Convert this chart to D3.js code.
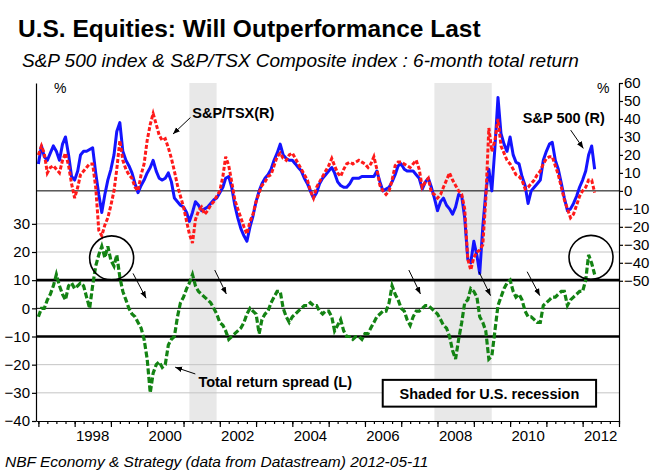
<!DOCTYPE html>
<html><head><meta charset="utf-8">
<script src="https://cdn.jsdelivr.net/npm/d3@7/dist/d3.min.js"></script>
<style>
body{margin:0;background:#fff}
svg{display:block}
text{font-family:"Liberation Sans",Arial,sans-serif;fill:#000}
</style>
</head><body>
<svg id="chart" width="667" height="475"></svg>
<script>
// ---------------- DATA (monthly, Jan 1997 .. May 2012) ----------------
const startMonth = [1997, 0]; // January 1997
const sp500 = [ // S&P 500 6-month total return (%), right axis
  15,25,19,17,21,25,22,17,26,30,20,8,
  6,11,20,22,22,23,24,10,-2,-12,-2,6,
  12,20,33,38,22,17,14,10,4,-1,3,6,
  10,13,17,11,7,6,7,10,5,-4,-6,-8,
  -9,-12,-17,-12,-6,-8,-11,-10,-9,-7,-5,-4,
  -1,2,7,8,2,-8,-15,-21,-25,-28,-20,-14,
  -6,0,4,7,9,12,17,21,26,20,18,17,
  17,15,13,11,7,4,0,-4,-1,4,7,9,
  11,13,10,5,3,2,2,4,7,7,7,8,
  8,8,8,8,11,5,0,1,2,5,9,14,
  15,12,11,11,11,9,7,1,5,7,2,-4,
  -11,-6,-4,-8,-10,-13,-9,-2,-3,-15,-38,-40,
  -28,-36,-46,-20,-1,12,0,24,52,32,26,22,
  30,20,16,15,8,3,-7,0,2,4,6,17,
  22,26,27,17,12,4,-4,-11,-10,-7,-3,2,
  6,11,20,25,12
];
const tsx = [ // S&P/TSX 6-month total return (%), right axis
  20,25,21,10,13,14,12,10,17,21,14,4,
  -4,2,9,11,13,15,15,2,-22,-25,-19,-15,
  -8,0,12,28,17,12,9,7,2,0,9,15,
  28,37,43,37,31,28,29,24,18,11,3,-3,
  -9,-17,-24,-29,-16,-11,-9,-13,-11,-8,-6,-3,
  0,8,19,14,5,-5,-10,-15,-20,-24,-17,-13,
  -6,-1,3,5,8,9,14,19,21,18,17,20,
  21,18,15,12,9,6,0,-4,2,5,8,11,
  14,18,14,10,8,12,15,16,15,16,17,16,
  15,13,15,19,12,3,0,-2,0,6,14,16,
  16,15,14,13,15,17,12,2,5,7,-1,-2,
  -4,-2,2,6,10,6,3,0,-2,-10,-38,-44,
  -37,-34,-33,-30,-5,35,22,28,40,25,21,17,
  15,12,9,8,6,1,2,4,6,9,11,15,
  18,19,19,14,9,2,-5,-10,-15,-13,-8,-3,
  0,2,6,6,-1
];
const spread = [ // Total return spread (pp), left axis
  -3,0,0,3,5,8,12,8,5,3,8,9,
  7,8,9,8,4,0,8,15,19,22,18,22,
  17,15,19,11,6,3,0,-2,-3,-5,-7,-11,
  -18,-30,-23,-20,-19,-21,-20,-13,-11,-10,-3,2,
  4,7,9,12,8,6,5,4,3,2,0,-2,
  -5,-6,-8,-11,-10,-9,-8,-7,-5,-2,0,-1,
  -2,-9,-4,-2,-1,2,4,6,6,0,-3,-5,
  -3,-2,-1,0,1,1,2,1,1,-1,-2,-1,
  -1,-3,-8,-6,-4,-8,-10,-10,-11,-10,-10,-11,
  -9,-9,-7,-5,-3,-2,-1,-1,2,8,5,3,
  0,-1,-4,-6,-3,-1,-1,0,1,1,0,-1,
  -2,-4,-6,-7,-10,-15,-18,-11,-5,2,3,7,
  6,4,-3,-5,-8,-18,-17,-8,1,4,7,9,
  10,6,4,5,3,-1,-3,-3,-4,-5,-5,1,
  2,3,4,4,5,6,6,1,3,4,5,6,
  6,10,19,16,12
];
const leftTicks = [-40,-30,-20,-10,0,10,20,30];
const rightTicks = [-50,-40,-30,-20,-10,0,10,20,30,40,50,60];
const yearLabels = [1998,2000,2002,2004,2006,2008,2010,2012];
const leftGrid = [30,20,-20,-30];
const leftThick = [10,-10];
const recessions = [["2001-03-01","2001-11-30"],["2007-12-01","2009-06-30"]];

// annotations in data units: [decimal year, value]
const rightArrows = [[[2001.19,40.8],[2000.71,31.6]], [[2011.67,33.8],[2012.02,23.6]]];
const leftArrows = [
  [[2001.325,-23.3],[2000.77,-20.9]],
  [[1999.61,12.4],[1999.97,3.6]],
  [[2001.86,13.6],[2002.18,5.1]],
  [[2007.21,13.6],[2007.53,5.1]],
  [[2009.14,13.0],[2009.46,4.5]],
  [[2010.47,13.0],[2010.82,4.5]]
];
const circles = [[1999.02,17.9],[2012.23,18.1]];

// ---------------- CHART ----------------
const svg = d3.select("#chart");
const W = 667, H = 475;
const L = 36, R = 619, T = 83, B = 421;

const x = d3.scaleTime().domain([new Date(1996,11,8), new Date(2013,0,1)]).range([L,R]);
const yL = d3.scaleLinear().domain([-40,80]).range([B,T]);
const yR = d3.scaleLinear().domain([-128,60]).range([B,T]);

const yd = y => { const yr = Math.floor(y); const s = new Date(yr,0,1), e = new Date(yr+1,0,1); return new Date(+s + (y-yr)*(e-s)); };
const months = sp500.map((_,i) => new Date(startMonth[0], startMonth[1]+i, 1));
const parse = d3.timeParse("%Y-%m-%d");

svg.append("rect").attr("width",W).attr("height",H).attr("fill","#fff");

// recession shading
svg.append("g").selectAll("rect").data(recessions).join("rect")
  .attr("x", d => x(parse(d[0])))
  .attr("width", d => x(parse(d[1])) - x(parse(d[0])))
  .attr("y", T).attr("height", B - T)
  .attr("fill", "#e8e8e8");

// gridlines
svg.append("g").selectAll("line").data(leftGrid).join("line")
  .attr("x1",L).attr("x2",R).attr("y1",d=>yL(d)).attr("y2",d=>yL(d))
  .attr("stroke","#c4c4c4").attr("stroke-width",1);
svg.append("line").attr("x1",L).attr("x2",R).attr("y1",yL(0)).attr("y2",yL(0)).attr("stroke","#000").attr("stroke-width",1);
svg.append("line").attr("x1",L).attr("x2",R).attr("y1",yR(0)).attr("y2",yR(0)).attr("stroke","#000").attr("stroke-width",1);
svg.append("g").selectAll("line").data(leftThick).join("line")
  .attr("x1",L).attr("x2",R).attr("y1",d=>yL(d)).attr("y2",d=>yL(d))
  .attr("stroke","#000").attr("stroke-width",2.6);

// series
const lineR = d3.line().x((d,i)=>x(months[i])).y(d=>yR(d));
const lineL = d3.line().x((d,i)=>x(months[i])).y(d=>yL(d));
svg.append("path").datum(sp500).attr("d",lineR).attr("fill","none")
  .attr("stroke","#1414ff").attr("stroke-width",3).attr("stroke-linejoin","round");
svg.append("path").datum(tsx).attr("d",lineR).attr("fill","none")
  .attr("stroke","#ff1a1a").attr("stroke-width",3).attr("stroke-dasharray","4,2");
svg.append("path").datum(spread).attr("d",lineL).attr("fill","none")
  .attr("stroke","#138313").attr("stroke-width",3.2).attr("stroke-dasharray","6,2.5");

// axes
const axL = svg.append("g").attr("transform",`translate(${L},0)`)
  .call(d3.axisLeft(yL).tickValues(leftTicks).tickSize(4).tickSizeOuter(0).tickPadding(2));
const axR = svg.append("g").attr("transform",`translate(${R},0)`)
  .call(d3.axisRight(yR).tickValues(rightTicks).tickSize(4).tickSizeOuter(0).tickPadding(1));
const axB = svg.append("g").attr("transform",`translate(0,${B})`)
  .call(d3.axisBottom(x).ticks(d3.timeMonth.every(3)).tickSize(3).tickSizeOuter(0).tickFormat(""));
svg.append("g").attr("transform",`translate(0,${B})`)
  .call(d3.axisBottom(x).ticks(d3.timeYear.every(1)).tickSize(6).tickSizeOuter(0).tickFormat(""))
  .select(".domain").remove();
[axL,axR].forEach(a=>a.selectAll("text").style("font-size","15px").attr("fill","#000"));
svg.selectAll(".domain, .tick line").attr("stroke","#000").attr("stroke-width",1.2);

svg.append("g").selectAll("text").data(yearLabels).join("text")
  .attr("x", d => x(new Date(d,6,1)))
  .attr("y", B + 20)
  .attr("text-anchor","middle").style("font-size","15px").text(d=>d);

// defs arrowhead
svg.append("defs").append("marker").attr("id","ah")
  .attr("viewBox","0 0 10 10").attr("refX",10).attr("refY",5)
  .attr("markerWidth",7).attr("markerHeight",7).attr("orient","auto")
  .append("path").attr("d","M0,1 L10,5 L0,9 z").attr("fill","#000");

const drawArrows = (arr, ys) => svg.append("g").selectAll("line").data(arr).join("line")
  .attr("x1",d=>x(yd(d[0][0]))).attr("y1",d=>ys(d[0][1]))
  .attr("x2",d=>x(yd(d[1][0]))).attr("y2",d=>ys(d[1][1]))
  .attr("stroke","#000").attr("stroke-width",1).attr("marker-end","url(#ah)");
drawArrows(rightArrows, yR);
drawArrows(leftArrows, yL);

svg.append("g").selectAll("circle").data(circles).join("circle")
  .attr("cx",d=>x(yd(d[0]))).attr("cy",d=>yL(d[1])).attr("r",22)
  .attr("fill","none").attr("stroke","#000").attr("stroke-width",1.6);

// labels
const bold = (t, xx, yy, fs) => svg.append("text").attr("x",xx).attr("y",yy)
  .style("font-size",fs+"px").style("font-weight","bold").text(t);
bold("S&P/TSX(R)", x(yd(2001.24)), yR(40.4), 14.5);
bold("S&P 500 (R)", x(yd(2010.35)), yR(37.6), 14.5);
bold("Total return spread (L)", x(yd(2001.41)), yL(-27.8), 14.5);

// legend box
const bx0 = x(yd(2006.49)), bx1 = x(yd(2012.37)), by0 = yL(-25.4), by1 = yL(-34.9);
svg.append("rect").attr("x",bx0).attr("y",by0).attr("width",bx1-bx0).attr("height",by1-by0)
  .attr("fill","#fff").attr("stroke","#000").attr("stroke-width",2);
svg.append("text").attr("x",(bx0+bx1)/2).attr("y",by0+19.5).attr("text-anchor","middle")
  .style("font-size","14.5px").style("font-weight","bold").text("Shaded for U.S. recession");

svg.append("text").attr("x",54).attr("y",93).style("font-size","14px").text("%");
svg.append("text").attr("x",597).attr("y",93).style("font-size","14px").text("%");

svg.append("text").attr("x",18).attr("y",37).style("font-size","24.5px").style("font-weight","bold")
  .text("U.S. Equities: Will Outperformance Last");
svg.append("text").attr("x",22).attr("y",67).style("font-size","19px").style("font-style","italic")
  .text("S&P 500 index & S&P/TSX Composite index : 6-month total return");
svg.append("text").attr("x",5).attr("y",467).style("font-size","15.5px").style("font-style","italic")
  .text("NBF Economy & Strategy (data from Datastream) 2012-05-11");
</script>
</body></html>
